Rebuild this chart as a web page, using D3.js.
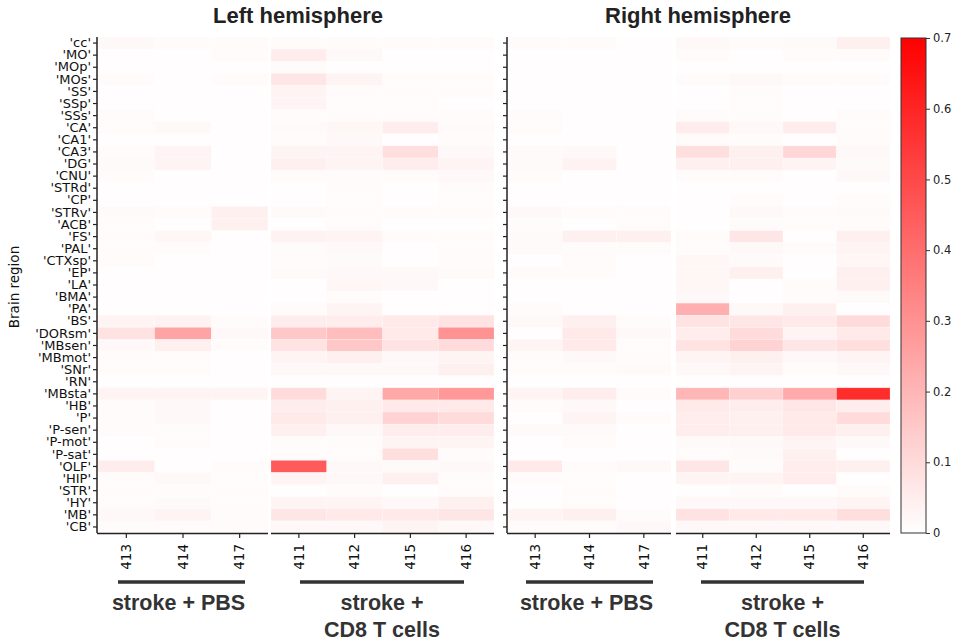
<!DOCTYPE html>
<html>
<meta charset="utf-8" />
<script src="https://d3js.org/d3.v7.min.js"></script>
<style>
  body { margin: 0; background: #fff; }
  svg { display: block; }
</style>
<body>
<div id="my_dataviz"></div>
<script>
// brain regions, top to bottom
var regions = ["cc","MO","MOp","MOs","SS","SSp","SSs","CA","CA1","CA3","DG","CNU","STRd","CP",
  "STRv","ACB","FS","PAL","CTXsp","EP","LA","BMA","PA","BS","DORsm","MBsen","MBmot","SNr",
  "RN","MBsta","HB","P","P-sen","P-mot","P-sat","OLF","HIP","STR","HY","MB","CB"];

var pbsMice = ["413","414","417"];
var cd8Mice = ["411","412","415","416"];
var groupNames = [["stroke + PBS"], ["stroke +", "CD8 T cells"]];
var cbTicks = [0, 0.1, 0.2, 0.3, 0.4, 0.5, 0.6, 0.7];

// one row per region: 413 414 417 | 411 412 415 416
var leftValues = [
  [0.02,0.01,0.01,0.01,0.01,0.01,0.01],
  [0.005,0.005,0.01,0.05,0.02,0.005,0.005],
  [0.005,0.005,0.005,0.01,0.005,0.005,0.005],
  [0.01,0.005,0.01,0.07,0.03,0.01,0.01],
  [0.005,0.005,0.005,0.03,0.01,0.01,0.01],
  [0.005,0.005,0.005,0.03,0.01,0.01,0.005],
  [0.01,0.005,0.005,0.01,0.01,0.01,0.01],
  [0.01,0.02,0.005,0.015,0.025,0.05,0.015],
  [0.005,0.005,0.005,0.01,0.02,0.005,0.01],
  [0.01,0.03,0.005,0.03,0.03,0.09,0.02],
  [0.015,0.03,0.005,0.04,0.03,0.05,0.03],
  [0.01,0.005,0.005,0.01,0.01,0.01,0.02],
  [0.005,0.005,0.005,0.005,0.01,0.005,0.01],
  [0.005,0.005,0.005,0.005,0.01,0.005,0.01],
  [0.015,0.01,0.04,0.015,0.01,0.01,0.01],
  [0.01,0.005,0.04,0.005,0.01,0.005,0.005],
  [0.01,0.025,0.005,0.035,0.03,0.01,0.01],
  [0.01,0.01,0.005,0.01,0.02,0.005,0.01],
  [0.01,0.005,0.005,0.01,0.015,0.005,0.01],
  [0.005,0.005,0.005,0.015,0.02,0.02,0.015],
  [0.005,0.005,0.005,0.005,0.025,0.02,0.005],
  [0.005,0.005,0.005,0.005,0.01,0.005,0.005],
  [0.005,0.005,0.005,0.01,0.03,0.005,0.005],
  [0.03,0.035,0.01,0.05,0.05,0.06,0.08],
  [0.08,0.25,0.02,0.15,0.18,0.06,0.3],
  [0.02,0.04,0.01,0.08,0.15,0.08,0.1],
  [0.01,0.01,0.005,0.03,0.04,0.02,0.03],
  [0.01,0.01,0.005,0.02,0.02,0.02,0.04],
  [0.005,0.005,0.005,0.005,0.005,0.005,0.005],
  [0.03,0.03,0.03,0.1,0.03,0.24,0.28],
  [0.01,0.02,0.005,0.05,0.04,0.06,0.06],
  [0.01,0.02,0.005,0.06,0.04,0.12,0.1],
  [0.01,0.01,0.005,0.04,0.02,0.05,0.05],
  [0.005,0.01,0.005,0.01,0.01,0.03,0.03],
  [0.005,0.005,0.005,0.01,0.01,0.09,0.01],
  [0.05,0.005,0.01,0.45,0.02,0.015,0.02],
  [0.01,0.02,0.01,0.03,0.02,0.04,0.01],
  [0.01,0.01,0.01,0.005,0.01,0.005,0.01],
  [0.01,0.015,0.01,0.03,0.03,0.02,0.04],
  [0.02,0.03,0.01,0.07,0.06,0.06,0.07],
  [0.01,0.01,0.01,0.02,0.02,0.03,0.02]
];

var rightValues = [
  [0.01,0.01,0.005,0.02,0.01,0.015,0.04],
  [0.005,0.005,0.005,0.01,0.005,0.01,0.01],
  [0.005,0.005,0.005,0.005,0.005,0.005,0.005],
  [0.005,0.005,0.005,0.01,0.02,0.01,0.01],
  [0.005,0.005,0.005,0.005,0.01,0.005,0.005],
  [0.005,0.005,0.005,0.005,0.01,0.005,0.005],
  [0.01,0.005,0.005,0.01,0.01,0.005,0.01],
  [0.01,0.005,0.005,0.05,0.02,0.05,0.01],
  [0.005,0.005,0.005,0.01,0.01,0.005,0.01],
  [0.015,0.02,0.005,0.09,0.04,0.11,0.02],
  [0.015,0.035,0.005,0.04,0.04,0.03,0.015],
  [0.01,0.005,0.005,0.01,0.01,0.005,0.02],
  [0.005,0.005,0.005,0.005,0.005,0.005,0.005],
  [0.005,0.005,0.005,0.005,0.01,0.005,0.01],
  [0.02,0.01,0.01,0.005,0.02,0.01,0.015],
  [0.01,0.005,0.01,0.005,0.01,0.01,0.01],
  [0.015,0.04,0.04,0.01,0.07,0.005,0.04],
  [0.015,0.01,0.01,0.01,0.02,0.01,0.03],
  [0.005,0.01,0.005,0.025,0.015,0.005,0.025],
  [0.01,0.01,0.005,0.025,0.04,0.005,0.04],
  [0.005,0.005,0.005,0.025,0.005,0.01,0.04],
  [0.005,0.005,0.005,0.02,0.005,0.01,0.015],
  [0.01,0.005,0.005,0.22,0.02,0.04,0.005],
  [0.02,0.04,0.01,0.08,0.07,0.06,0.1],
  [0.005,0.06,0.02,0.05,0.1,0.03,0.06],
  [0.03,0.06,0.01,0.08,0.12,0.07,0.09],
  [0.01,0.02,0.01,0.03,0.04,0.02,0.03],
  [0.01,0.01,0.015,0.02,0.03,0.01,0.02],
  [0.005,0.005,0.005,0.005,0.005,0.005,0.005],
  [0.03,0.05,0.01,0.2,0.13,0.23,0.58],
  [0.01,0.02,0.005,0.06,0.05,0.07,0.05],
  [0.005,0.03,0.01,0.05,0.04,0.06,0.1],
  [0.015,0.015,0.005,0.05,0.04,0.06,0.04],
  [0.005,0.01,0.005,0.015,0.02,0.03,0.02],
  [0.005,0.005,0.005,0.01,0.015,0.04,0.005],
  [0.06,0.01,0.02,0.07,0.01,0.05,0.04],
  [0.01,0.01,0.005,0.03,0.03,0.05,0.005],
  [0.005,0.01,0.005,0.005,0.01,0.005,0.01],
  [0.005,0.01,0.005,0.02,0.02,0.02,0.03],
  [0.03,0.04,0.01,0.08,0.06,0.06,0.09],
  [0.01,0.01,0.02,0.02,0.02,0.02,0.02]
];

var width = 957, height = 643;
var yTop = 37, yBottom = 533;

var svg = d3.select("#my_dataviz")
  .append("svg")
    .attr("width", width)
    .attr("height", height);

var color = d3.scaleLinear()
  .domain([0, 0.7])
  .range(["#ffffff", "#ff0000"])
  .clamp(true);

var y = d3.scaleBand()
  .domain(regions)
  .range([yTop, yBottom]);

var labelFont = "DejaVu Sans, sans-serif";
var boldFont = "Liberation Sans, Arial, sans-serif";

// one hemisphere panel
function drawPanel(values, opt) {
  var g = svg.append("g");
  var xa = d3.scaleBand().domain(pbsMice).range(opt.pbs);
  var xb = d3.scaleBand().domain(cd8Mice).range(opt.cd8);
  var allMice = pbsMice.concat(cd8Mice);

  var cells = [];
  values.forEach(function(row, i) {
    row.forEach(function(v, j) {
      cells.push({ region: regions[i], mouse: allMice[j], pbs: j < 3, value: v });
    });
  });

  g.append("g").selectAll("rect")
    .data(cells)
    .enter()
    .append("rect")
    .attr("x", function(d) { return d.pbs ? xa(d.mouse) : xb(d.mouse); })
    .attr("y", function(d) { return y(d.region); })
    .attr("width", function(d) { return d.pbs ? xa.bandwidth() : xb.bandwidth(); })
    .attr("height", y.bandwidth())
    .attr("fill", function(d) { return color(d.value); })
    .attr("stroke", "#fff")
    .attr("stroke-opacity", 0.35)
    .attr("stroke-width", 0.5);

  // y axis
  var yAxis = d3.axisLeft(y).tickSize(4).tickPadding(2)
    .tickFormat(function(d) { return opt.labels ? "'" + d + "'" : ""; });
  var ya = g.append("g")
    .attr("transform", "translate(" + opt.axisX + ",0)")
    .call(yAxis);
  ya.select(".domain").attr("d", "M0," + yTop + "V" + yBottom).attr("stroke", "#222").attr("stroke-width", 1.5);
  ya.selectAll("line").attr("stroke", "#222").attr("stroke-width", 1.2);
  ya.selectAll("text").attr("font-family", labelFont).attr("font-size", 13).attr("fill", "#111");

  // x axes (broken between the two groups)
  [[xa, opt.axisX, opt.pbs[1]], [xb, opt.cd8[0], opt.cd8[1]]].forEach(function(p) {
    var ax = g.append("g")
      .attr("transform", "translate(0," + yBottom + ")")
      .call(d3.axisBottom(p[0]).tickSize(5).tickSizeOuter(0));
    ax.select(".domain").attr("d", "M" + p[1] + ",0.5H" + p[2]).attr("stroke", "#222").attr("stroke-width", 1.5);
    ax.selectAll("line").attr("stroke", "#222").attr("stroke-width", 1.2);
    ax.selectAll("text")
      .attr("font-family", labelFont)
      .attr("font-size", 13.5)
      .attr("fill", "#111")
      .attr("transform", "rotate(-90)")
      .attr("text-anchor", "end")
      .attr("dy", "0.35em")
      .attr("x", -11)
      .attr("y", 0);
  });

  // title
  svg.append("text")
    .attr("x", opt.titleX)
    .attr("y", 23)
    .attr("text-anchor", "middle")
    .attr("font-family", boldFont)
    .attr("font-weight", "bold")
    .attr("font-size", 22)
    .attr("fill", "#222")
    .text(opt.title);

  // group brackets and names
  opt.groupLines.forEach(function(l, k) {
    svg.append("line")
      .attr("x1", l[0]).attr("x2", l[1])
      .attr("y1", 582).attr("y2", 582)
      .attr("stroke", "#333")
      .attr("stroke-width", 3.5);
    var cx = (l[0] + l[1]) / 2 + (k === 0 ? -3 : 0);
    var t = svg.append("text")
      .attr("y", 610)
      .attr("text-anchor", "middle")
      .attr("font-family", boldFont)
      .attr("font-weight", "bold")
      .attr("font-size", 21.5)
      .attr("fill", "#333");
    groupNames[k].forEach(function(s, n) {
      t.append("tspan")
        .attr("x", cx)
        .attr("dy", n === 0 ? 0 : 27)
        .text(s);
    });
  });
}

drawPanel(leftValues, {
  axisX: 97, pbs: [98, 268], cd8: [271, 494], labels: true,
  title: "Left hemisphere", titleX: 298,
  groupLines: [[118, 245], [300, 464]]
});

drawPanel(rightValues, {
  axisX: 507, pbs: [508, 671], cd8: [676, 890], labels: false,
  title: "Right hemisphere", titleX: 698,
  groupLines: [[526, 653], [701, 864]]
});

// y label
svg.append("text")
  .attr("transform", "translate(19," + ((yTop + yBottom) / 2 + 2) + ") rotate(-90)")
  .attr("text-anchor", "middle")
  .attr("font-family", labelFont)
  .attr("font-size", 13.5)
  .attr("fill", "#111")
  .text("Brain region");

// colour bar
var cb = { x: 901, w: 25 };
var cbScale = d3.scaleLinear().domain([0, 0.7]).range([yBottom, yTop + 1]);
var defs = svg.append("defs");
var grad = defs.append("linearGradient")
  .attr("id", "cbgrad")
  .attr("x1", 0).attr("x2", 0).attr("y1", 1).attr("y2", 0);
grad.append("stop").attr("offset", "0%").attr("stop-color", color(0));
grad.append("stop").attr("offset", "100%").attr("stop-color", color(0.7));

svg.append("rect")
  .attr("x", cb.x)
  .attr("y", cbScale(0.7))
  .attr("width", cb.w)
  .attr("height", cbScale(0) - cbScale(0.7))
  .attr("fill", "url(#cbgrad)")
  .attr("stroke", "#333")
  .attr("stroke-width", 1);

var cbAxis = svg.append("g")
  .attr("transform", "translate(" + (cb.x + cb.w) + ",0)")
  .call(d3.axisRight(cbScale).tickValues(cbTicks).tickSize(4).tickPadding(3)
    .tickFormat(function(d) { return d === 0 ? "0" : d3.format(".1f")(d); }));
cbAxis.select(".domain").remove();
cbAxis.selectAll("line").attr("stroke", "#333");
cbAxis.selectAll("text").attr("font-family", labelFont).attr("font-size", 11.5).attr("fill", "#222");
</script>
</body>
</html>
